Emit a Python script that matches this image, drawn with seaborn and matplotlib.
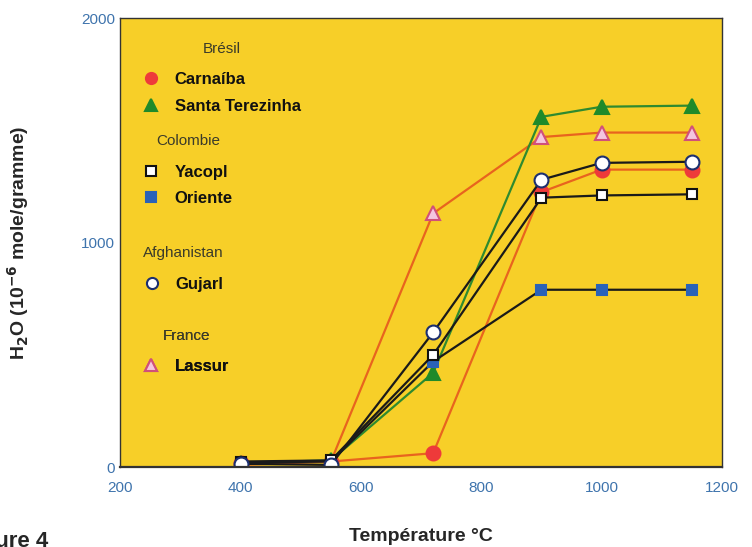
import pandas as pd
import matplotlib
matplotlib.use('Agg')
import matplotlib.pyplot as plt
from matplotlib.lines import Line2D
import seaborn as sns

# data
temps = [400, 550, 720, 900, 1000, 1150]
carnaiba = [20, 25, 62, 1225, 1325, 1325]
santa_terezinha = [20, 30, 420, 1560, 1605, 1610]
yacopi = [25, 30, 500, 1200, 1210, 1215]
oriente = [20, 25, 470, 790, 790, 790]
gujarl = [15, 10, 600, 1280, 1355, 1360]
lassur = [10, 25, 1130, 1470, 1490, 1490]

sns.set_style('white')
plt.rcParams['font.family'] = ['Liberation Sans', 'DejaVu Sans']

# name: (values, line colour, marker, face, edge)
styles = {
    'Carnaíba': (carnaiba, '#e8641e', 'o', '#ee3a3a', '#ee3a3a'),
    'Santa Terezinha': (santa_terezinha, '#2f8a2f', '^', '#1f8a2a', '#1f8a2a'),
    'Yacopl': (yacopi, '#1a1a1a', 's', 'white', '#111111'),
    'Oriente': (oriente, '#1a1a1a', 's', '#2a62b8', '#2a62b8'),
    'Gujarl': (gujarl, '#1a1a1a', 'o', 'white', '#1c2f70'),
    'Lassur': (lassur, '#e8641e', '^', '#f4c6e0', '#d0507a'),
}
draw_order = ['Carnaíba', 'Lassur', 'Santa Terezinha', 'Oriente', 'Yacopl', 'Gujarl']

fig = plt.figure(figsize=(7.52, 5.47), dpi=100)
ax = fig.add_axes([0.16, 0.146, 0.80, 0.821])
ax.set_facecolor('#f7cf28')

for name in draw_order:
    vals, lc, mk, fc, ec = styles[name]
    df = pd.DataFrame({'temp': temps, 'h2o': vals})
    sns.lineplot(data=df, x='temp', y='h2o', ax=ax, color=lc, lw=1.6,
                 marker=mk, markersize=10 if mk != 's' else 7.5,
                 markerfacecolor=fc, markeredgecolor=ec, markeredgewidth=1.5)

ax.set_xlim(200, 1200)
ax.set_ylim(0, 2000)
ax.set_xticks([200, 400, 600, 800, 1000, 1200])
ax.set_yticks([0, 1000, 2000])
ax.tick_params(length=0, labelsize=11, labelcolor='#3f74ad')
ax.tick_params(axis='x', pad=10)
ax.tick_params(axis='y', pad=4)
for s in ax.spines.values():
    s.set_color('#333333')
    s.set_linewidth(1.0)
ax.spines['bottom'].set_linewidth(1.6)

ax.set_xlabel('Température °C', fontsize=14, fontweight='bold', labelpad=24)
ax.set_ylabel('H$_\\mathbf{2}$O (10$^\\mathbf{-6}$ mole/gramme)', fontsize=14,
              fontweight='bold', labelpad=36)

# one small legend per country, header centred as the title
groups = [('Brésil', ['Carnaíba', 'Santa Terezinha'], 0.966),
          ('Colombie', ['Yacopl', 'Oriente'], 0.760),
          ('Afghanistan', ['Gujarl'], 0.510),
          ('France', ['Lassur'], 0.327)]
for country, names, top in groups:
    handles = []
    for n in names:
        vals, lc, mk, fc, ec = styles[n]
        handles.append(Line2D([], [], linestyle='none', marker=mk,
                              markersize=8 if mk != 's' else 7,
                              markerfacecolor=fc, markeredgecolor=ec,
                              markeredgewidth=1.5))
    leg = ax.legend(handles, names, loc='upper left', frameon=False,
                    bbox_to_anchor=(0.024, top), borderpad=0,
                    labelspacing=0.68, handlelength=1.0, handletextpad=0.9,
                    fontsize=12, title=country, title_fontsize=11)
    leg.get_title().set_color('#3b3b2a')
    leg._legend_box.sep = 12
    for txt in leg.get_texts():
        txt.set_fontweight('bold')
        txt.set_color('#111111')
    ax.add_artist(leg)

fig.text(-0.05, 0.0, 'Figure 4', fontsize=16, fontweight='bold')

plt.savefig('out.png', dpi=100)
